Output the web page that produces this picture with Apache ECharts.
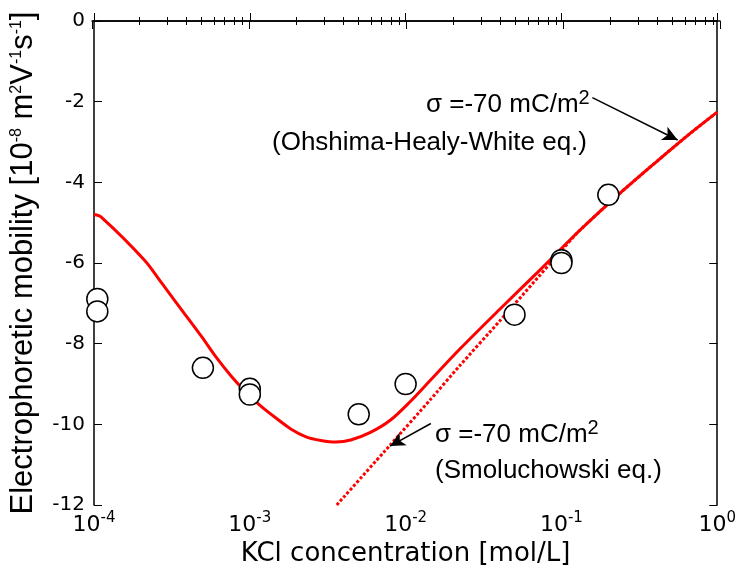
<!DOCTYPE html>
<html><head><meta charset="utf-8">
<script src="https://cdn.jsdelivr.net/npm/echarts@6/dist/echarts.min.js"></script>
<style>html,body{margin:0;padding:0;background:#fff}#c{width:739px;height:572px}</style>
</head><body><div id="c"></div>
<script>
// ---- data ----
const xMajorTicks = [1e-4, 1e-3, 1e-2, 1e-1, 1];
const xMinorTicks = [2e-4,3e-4,4e-4,5e-4,6e-4,7e-4,8e-4,9e-4,
  2e-3,3e-3,4e-3,5e-3,6e-3,7e-3,8e-3,9e-3,
  2e-2,3e-2,4e-2,5e-2,6e-2,7e-2,8e-2,9e-2,
  0.2,0.3,0.4,0.5,0.6,0.7,0.8,0.9];
const yTicks = [0, -2, -4, -6, -8, -10, -12];

const measuredConc     = [1.05e-4, 1.05e-4, 5e-4, 1e-3, 1e-3, 5e-3, 1e-2, 5e-2, 0.1, 0.1, 0.2];
const measuredMobility = [-6.89, -7.2, -8.6, -9.12, -9.26, -9.75, -9.0, -7.28, -5.93, -6.0, -4.31];

const ohwConc     = [1e-4, 1.113e-4, 2.11e-4, 2.747e-4, 3.681e-4, 4.934e-4, 6.145e-4, 7.654e-4, 9.535e-4, 1.188e-3, 1.48e-3, 1.843e-3, 2.296e-3, 2.86e-3, 3.563e-3, 4.438e-3, 5.944e-3, 7.967e-3, 1.068e-2, 1.432e-2, 2.221e-2, 3.99e-2, 7.165e-2, 0.1288, 0.2312, 0.4154, 0.6445, 1];
const ohwMobility = [-4.80, -4.86, -5.93, -6.52, -7.18, -7.84, -8.36, -8.82, -9.22, -9.56, -9.85, -10.12, -10.31, -10.40, -10.44, -10.39, -10.20, -9.90, -9.44, -8.92, -8.14, -7.16, -6.20, -5.22, -4.31, -3.46, -2.84, -2.26];

const smolConc     = [3.614e-3, 7.967e-3, 1.432e-2, 2.221e-2, 3.99e-2, 6.466e-2, 9.605e-2, 0.1288, 0.2312, 0.4154, 0.6445, 1];
const smolMobility = [-12, -10.51, -9.40, -8.55, -7.45, -6.53, -5.77, -5.22, -4.31, -3.46, -2.84, -2.26];

const arrowOHW  = [[0.158, -1.9], [0.557, -2.95]];
const arrowSmol = [[0.01452, -9.98], [0.00794, -10.54]];

// ---- chart ----
const chart = echarts.init(document.getElementById('c'), null, {renderer: 'canvas'});
const pair = (xs, ys) => xs.map((x, i) => [x, ys[i]]);
const axisColor = '#000';
const tickFont = 'DejaVu Sans';
const annFont = 'Liberation Sans';
const gridBox = {left: 92, right: 19, top: 21, bottom: 61, containLabel: false};

function logAxis(gridIndex, pos, major, labels) {
  return {
    type: 'log', logBase: 10, min: 1e-4, max: 1, position: pos, gridIndex: gridIndex,
    axisLine: {show: major, lineStyle: {color: axisColor, width: 1.5}},
    axisTick: {show: true, inside: true, length: major ? 8 : 4,
      customValues: major ? xMajorTicks : xMinorTicks,
      lineStyle: {color: axisColor, width: 1}},
    axisLabel: {show: labels, customValues: xMajorTicks, showMinLabel: true, showMaxLabel: true,
      margin: 6,
      formatter: v => '{b|10}{s|' + Math.round(Math.log10(v)) + '}',
      rich: {
        b: {fontFamily: tickFont, fontSize: 22, color: '#000'},
        s: {fontFamily: tickFont, fontSize: 15, color: '#000', padding: [0, 0, 13, 0]}
      }},
    splitLine: {show: false}, minorTick: {show: false},
    name: labels ? 'KCl concentration [mol/L]' : '',
    nameLocation: 'middle', nameGap: 36,
    nameTextStyle: {fontFamily: tickFont, fontSize: 26, color: '#000'}
  };
}
function hiddenY(gridIndex) {
  return {type: 'value', gridIndex: gridIndex, min: -12, max: 0, interval: 2, show: false};
}

const option = {
  backgroundColor: '#fff',
  animation: false,
  grid: [gridBox, gridBox, gridBox, gridBox],
  xAxis: [
    logAxis(0, 'bottom', true, true),
    logAxis(1, 'bottom', false, false),
    logAxis(2, 'top', true, false),
    logAxis(3, 'top', false, false)
  ],
  yAxis: [
    {type: 'value', gridIndex: 0, min: -12, max: 0, interval: 2, position: 'left',
      axisLine: {show: true, lineStyle: {color: axisColor, width: 1.5}},
      axisTick: {show: true, inside: true, length: 8, lineStyle: {color: axisColor}},
      axisLabel: {fontFamily: tickFont, fontSize: 20, color: '#000', margin: 9, showMinLabel: true, showMaxLabel: true},
      splitLine: {show: false},
      name: 'Electrophoretic mobility [10{s|-8} m{s|2}V{s|-1}s{s|-1}]',
      nameLocation: 'middle', nameGap: 55,
      nameTextStyle: {fontFamily: annFont, fontSize: 31, color: '#000',
        rich: {s: {fontFamily: annFont, fontSize: 16, color: '#000', padding: [0, 0, 14, 0]}}}
    },
    {type: 'value', gridIndex: 0, min: -12, max: 0, interval: 2, position: 'right',
      axisLine: {show: true, lineStyle: {color: axisColor, width: 1.5}},
      axisTick: {show: true, inside: true, length: 8, lineStyle: {color: axisColor}},
      axisLabel: {show: false}, splitLine: {show: false}},
    hiddenY(1), hiddenY(2), hiddenY(3)
  ],
  series: [
    {type: 'line', name: 'Smoluchowski', xAxisIndex: 0, yAxisIndex: 0,
      data: pair(smolConc, smolMobility), showSymbol: false, smooth: 0.2,
      lineStyle: {color: '#ff0000', width: 3, type: [3, 2]}, z: 2},
    {type: 'line', name: 'OHW', xAxisIndex: 0, yAxisIndex: 0,
      data: pair(ohwConc, ohwMobility), showSymbol: false, smooth: 0.3,
      lineStyle: {color: '#ff0000', width: 3}, z: 3},
    {type: 'scatter', name: 'measured', xAxisIndex: 0, yAxisIndex: 0,
      data: pair(measuredConc, measuredMobility), symbol: 'circle', symbolSize: 21, clip: false,
      itemStyle: {color: '#fff', borderColor: '#000', borderWidth: 1.5, opacity: 1}, z: 5},
    {type: 'line', name: 'arrows', xAxisIndex: 0, yAxisIndex: 0, data: [],
      markLine: {silent: true, symbol: ['none', 'arrow'], symbolSize: [11, 15],
        label: {show: false},
        lineStyle: {color: '#000', width: 1.5, type: 'solid'},
        data: [
          [{coord: arrowOHW[0]}, {coord: arrowOHW[1]}],
          [{coord: arrowSmol[0]}, {coord: arrowSmol[1]}]
        ]}, z: 6}
  ],
  graphic: [
    {type: 'text', left: 426, top: 88, style: {text: '{a|σ =-70 mC/m}{s|2}',
      rich: {a: {fontFamily: annFont, fontSize: 26, fill: '#000'}, s: {fontFamily: annFont, fontSize: 20, fill: '#000', padding: [0, 0, 14, 0]}}}},
    {type: 'text', left: 272, top: 130, style: {text: '(Ohshima-Healy-White eq.)', font: '26px "Liberation Sans"', fill: '#000'}},
    {type: 'text', left: 435, top: 418, style: {text: '{a|σ =-70 mC/m}{s|2}',
      rich: {a: {fontFamily: annFont, fontSize: 26, fill: '#000'}, s: {fontFamily: annFont, fontSize: 20, fill: '#000', padding: [0, 0, 14, 0]}}}},
    {type: 'text', left: 435, top: 458, style: {text: '(Smoluchowski eq.)', font: '26px "Liberation Sans"', fill: '#000'}}
  ]
};
chart.setOption(option);
</script></body></html>
